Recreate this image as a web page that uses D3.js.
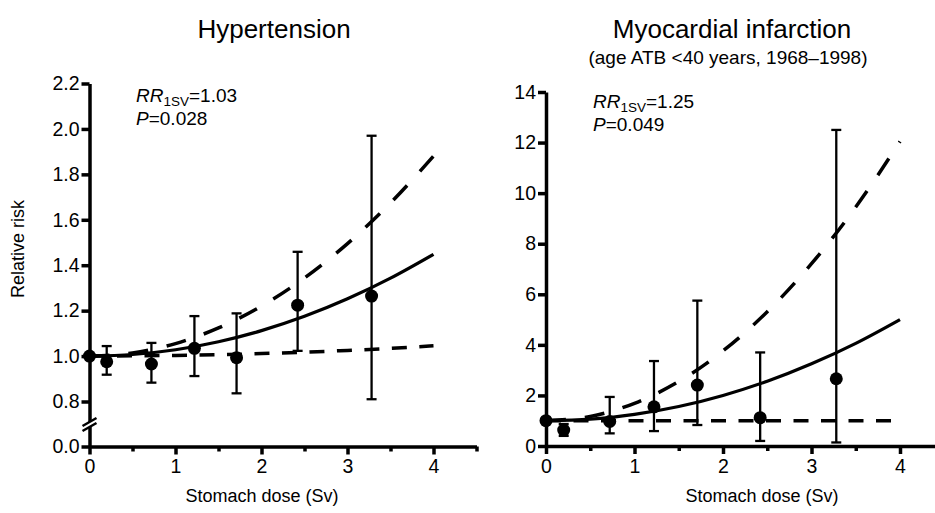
<!DOCTYPE html>
<html>
<head>
<meta charset="utf-8">
<script src="https://cdn.jsdelivr.net/npm/d3@7"></script>
<style>
  body { margin: 0; background: #fff; }
  svg { display: block; font-family: "Liberation Sans", Arial, sans-serif; }
  .axis path, .axis line { stroke: #000; stroke-width: 3.5; }
  .axis text { font-size: 19.5px; fill: #000; font-family: "Liberation Sans", Arial, sans-serif; }
</style>
</head>
<body>
<svg id="chart" width="935" height="513"></svg>
<script>
// category doses (Sv) of the plotted points
const doses = [0, 0.2, 0.72, 1.22, 1.71, 2.42, 3.28];
const fitDoses = [0, 0.5, 1, 1.5, 2, 2.5, 3, 3.5, 4];
const xTicks = [0, 1, 2, 3, 4];
const xMinorTicks = [0.5, 1.5, 2.5, 3.5, 4.5];

// Hypertension
const htnRR = [1.0, 0.975, 0.965, 1.034, 0.993, 1.224, 1.264];
const htnLo = [null, 0.918, 0.883, 0.912, 0.836, 1.023, 0.81];
const htnHi = [null, 1.044, 1.058, 1.176, 1.188, 1.459, 1.97];
const htnFit = [1.0, 1.007, 1.028, 1.063, 1.112, 1.175, 1.252, 1.343, 1.448];
const htnUpper = [1.0, 1.014, 1.055, 1.124, 1.22, 1.344, 1.495, 1.674, 1.88];
const htnLower = [1.0, 1.001, 1.003, 1.006, 1.011, 1.017, 1.025, 1.034, 1.045];
const htnYTicks = [0, 0.8, 1.0, 1.2, 1.4, 1.6, 1.8, 2.0, 2.2];

// Myocardial infarction
const miRR = [1.0, 0.63, 0.97, 1.55, 2.41, 1.12, 2.66];
const miLo = [null, 0.4, 0.5, 0.59, 0.83, 0.2, 0.14];
const miHi = [null, 0.87, 1.94, 3.36, 5.75, 3.7, 12.5];
const miFit = [1.0, 1.06, 1.25, 1.56, 2.0, 2.56, 3.25, 4.06, 5.0];
const miUpper = [1.0, 1.17, 1.69, 2.55, 3.76, 5.31, 7.21, 9.45, 12.04];
const miLower = [1.0, 1.0, 1.0, 1.0, 1.0, 1.0, 1.0, 1.0, 1.0];
const miYTicks = [0, 2, 4, 6, 8, 10, 12, 14];

const svg = d3.select('#chart');

const panels = [
  {
    title: 'Hypertension',
    subtitle: null,
    titleX: 274,
    rr: htnRR, lo: htnLo, hi: htnHi,
    fit: htnFit, upper: htnUpper, lower: htnLower,
    yTicks: htnYTicks,
    yFormat: d3.format('.1f'),
    yDomain: [0, 0.8, 2.2],
    yRange: [446.5, 401.5, 83.5],
    xRange: [89.5, 89.5 + 4.5 * 86],
    rrText: '1.03', pText: '0.028',
    noteX: 136, noteY: 102,
    xLabelX: 262,
    broken: true,
  },
  {
    title: 'Myocardial infarction',
    subtitle: '(age ATB <40 years, 1968\u20131998)',
    titleX: 732,
    rr: miRR, lo: miLo, hi: miHi,
    fit: miFit, upper: miUpper, lower: miLower,
    yTicks: miYTicks,
    yFormat: d3.format('d'),
    yDomain: [0, 14],
    yRange: [446, 92],
    xRange: [546, 546 + 4.5 * 88.5],
    rrText: '1.25', pText: '0.049',
    noteX: 593, noteY: 108,
    xLabelX: 762,
    broken: false,
  },
];

const drawPanel = (p) => {
  const x = d3.scaleLinear().domain([0, 4.5]).range(p.xRange);
  const y = d3.scaleLinear().domain(p.yDomain).range(p.yRange);
  const g = svg.append('g');

  // titles
  g.append('text')
    .attr('x', p.titleX)
    .attr('y', 38)
    .attr('text-anchor', 'middle')
    .style('font-size', '26px')
    .text(p.title);
  if (p.subtitle) {
    g.append('text')
      .attr('x', 728)
      .attr('y', 64)
      .attr('text-anchor', 'middle')
      .style('font-size', '19px')
      .text(p.subtitle);
  }

  // axes
  const xAxis = d3.axisBottom(x)
    .tickValues(xTicks)
    .tickFormat(d3.format('d'))
    .tickSize(8)
    .tickSizeOuter(0)
    .tickPadding(5);
  g.append('g')
    .attr('class', 'axis')
    .attr('transform', `translate(0,${y(0)})`)
    .call(xAxis);
  g.append('g')
    .attr('class', 'axis minor')
    .attr('transform', `translate(0,${y(0)})`)
    .call(d3.axisBottom(x).tickValues(xMinorTicks).tickFormat('').tickSize(5).tickSizeOuter(0))
    .select('.domain').remove();

  const yAxis = d3.axisLeft(y)
    .tickValues(p.yTicks)
    .tickFormat(p.yFormat)
    .tickSize(8)
    .tickSizeOuter(0)
    .tickPadding(2);
  g.append('g')
    .attr('class', 'axis')
    .attr('transform', `translate(${x(0)},0)`)
    .call(yAxis);

  if (p.broken) {
    const bx = x(0);
    const by = (y(0) + y(0.8)) / 2 + 2;
    g.append('polygon')
      .attr('points', [[bx - 7, by + 5], [bx + 7, by - 3], [bx + 7, by - 8], [bx - 7, by]].join(' '))
      .attr('fill', '#fff');
    [0, -5].forEach((off) => {
      g.append('line')
        .attr('x1', bx - 7).attr('y1', by + 5 + off)
        .attr('x2', bx + 7).attr('y2', by - 3 + off)
        .attr('stroke', '#000')
        .attr('stroke-width', 2.5);
    });
  }

  // error bars
  const pts = doses.map((d, i) => ({ dose: d, rr: p.rr[i], lo: p.lo[i], hi: p.hi[i] }));
  const bars = g.append('g')
    .selectAll('g')
    .data(pts.filter(d => d.lo !== null))
    .join('g')
    .attr('stroke', '#000')
    .attr('stroke-width', 2.3);
  bars.append('line')
    .attr('x1', d => x(d.dose)).attr('x2', d => x(d.dose))
    .attr('y1', d => y(d.lo)).attr('y2', d => y(d.hi));
  bars.append('line')
    .attr('x1', d => x(d.dose) - 5).attr('x2', d => x(d.dose) + 5)
    .attr('y1', d => y(d.hi)).attr('y2', d => y(d.hi));
  bars.append('line')
    .attr('x1', d => x(d.dose) - 5).attr('x2', d => x(d.dose) + 5)
    .attr('y1', d => y(d.lo)).attr('y2', d => y(d.lo));

  // fitted curve and confidence bounds
  const line = d3.line()
    .x(d => x(d[0]))
    .y(d => y(d[1]))
    .curve(d3.curveMonotoneX);
  const curves = [
    { values: p.lower, dash: '15,12.5', width: 3.5 },
    { values: p.upper, dash: '20,19', width: 3.5 },
    { values: p.fit, dash: null, width: 3.2 },
  ];
  curves.forEach((c) => {
    g.append('path')
      .datum(fitDoses.map((d, i) => [d, c.values[i]]))
      .attr('d', line)
      .attr('fill', 'none')
      .attr('stroke', '#000')
      .attr('stroke-width', c.width)
      .attr('stroke-dasharray', c.dash);
  });

  // points
  g.append('g')
    .selectAll('circle')
    .data(pts)
    .join('circle')
    .attr('cx', d => x(d.dose))
    .attr('cy', d => y(d.rr))
    .attr('r', 6.5)
    .attr('fill', '#000');

  // RR / P note
  const note = g.append('text')
    .attr('x', p.noteX)
    .attr('y', p.noteY)
    .style('font-size', '19px');
  note.append('tspan').style('font-style', 'italic').text('RR');
  note.append('tspan').attr('dy', 4).style('font-size', '13.5px').text('1SV');
  note.append('tspan').attr('dy', -4).text(`=${p.rrText}`);
  const pNote = g.append('text')
    .attr('x', p.noteX)
    .attr('y', p.noteY + 23)
    .style('font-size', '19px');
  pNote.append('tspan').style('font-style', 'italic').text('P');
  pNote.append('tspan').text(`=${p.pText}`);

  // x label
  g.append('text')
    .attr('x', p.xLabelX)
    .attr('y', 502)
    .attr('text-anchor', 'middle')
    .style('font-size', '18px')
    .text('Stomach dose (Sv)');
};

panels.forEach(drawPanel);

svg.append('text')
  .attr('transform', 'translate(24,249) rotate(-90)')
  .attr('text-anchor', 'middle')
  .style('font-size', '18px')
  .text('Relative risk');
</script>
</body>
</html>
